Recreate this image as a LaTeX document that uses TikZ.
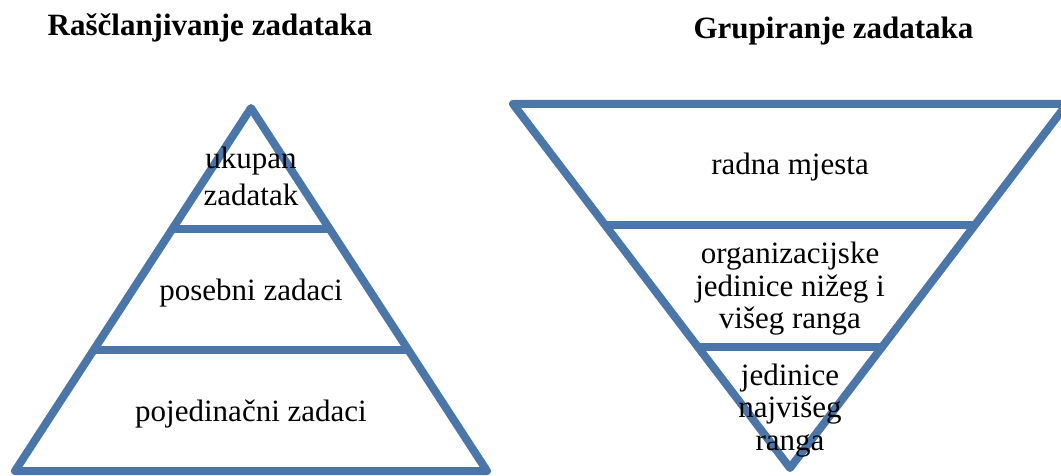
\documentclass[tikz,border=0pt]{standalone}
\usepackage{fontspec}
\setmainfont{Liberation Serif}
\usetikzlibrary{calc}
\definecolor{pyrblue}{RGB}{74,118,170}
\begin{document}
\begin{tikzpicture}[x=1pt,y=-1pt,
  edge/.style={draw=pyrblue,line width=8pt,line join=round},
  lbl/.style={font=\fontsize{31}{32.5}\selectfont,align=center,inner sep=0pt,anchor=base},
  ttl/.style={font=\fontsize{31}{36}\selectfont\bfseries,inner sep=0pt,anchor=base}]
\useasboundingbox (0,0) rectangle (1061,476);
\clip (0,0) rectangle (1061,476);
% left pyramid
\coordinate (LA) at (251,108);
\coordinate (LL) at (15,471);
\coordinate (LR) at (487,471);
\draw[edge] (LA) -- (LR) -- (LL) -- cycle;
\draw[edge] ($(LA)!1/3!(LL)$) -- ($(LA)!1/3!(LR)$);
\draw[edge] ($(LA)!2/3!(LL)$) -- ($(LA)!2/3!(LR)$);
% right inverted pyramid
\coordinate (RA) at (790,468);
\coordinate (RL) at (513,104);
\coordinate (RR) at (1067,104);
\draw[edge] (RA) -- (RL) -- (RR) -- cycle;
\draw[edge] ($(RL)!1/3!(RA)$) -- ($(RR)!1/3!(RA)$);
\draw[edge] ($(RL)!2/3!(RA)$) -- ($(RR)!2/3!(RA)$);
% titles
\node[ttl] (t1) at (210,35.5) {Raščlanjivanje zadataka};
\node[ttl] (t2) at (833.5,39) {Grupiranje zadataka};
% left labels (base anchor = baseline of last line)
\node[lbl,font=\fontsize{31}{37}\selectfont] (l1) at (251,205) {ukupan\\zadatak};
\node[lbl] (l2) at (251,300) {posebni zadaci};
\node[lbl] (l3) at (251,421.5) {pojedinačni zadaci};
% right labels
\node[lbl] (r1) at (790,175) {radna mjesta};
\node[lbl] (r2) at (790,328.5) {organizacijske\\jedinice nižeg i\\višeg ranga};
\node[lbl] (r3) at (790,450) {jedinice\\najvišeg\\ranga};
\end{tikzpicture}
\end{document}
